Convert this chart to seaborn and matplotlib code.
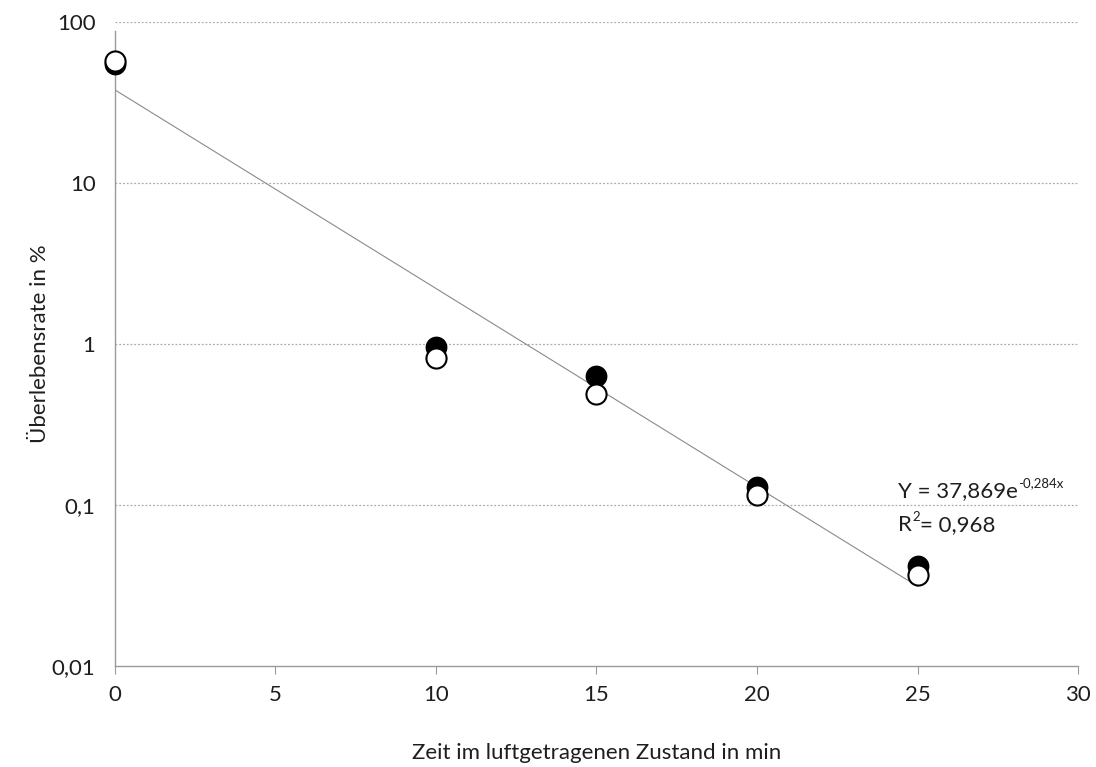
import numpy as np
import pandas as pd
import matplotlib
matplotlib.use("Agg")
import matplotlib.pyplot as plt
import seaborn as sns

# Survival rate (%) after time airborne (min), two replicate series
zeit = [0, 10, 15, 20, 25]
serie_gefuellt = [55.0, 0.96, 0.63, 0.13, 0.042]
serie_offen = [57.5, 0.82, 0.49, 0.116, 0.037]

# Exponential fit  Y = a * exp(b * x)
fit_a = 37.869
fit_b = -0.284
fit_r2 = 0.968
fit_x_range = [0, 25]

y_ticks = [0.01, 0.1, 1, 10, 100]
y_ticklabels = ["0,01", "0,1", "1", "10", "100"]
x_ticks = [0, 5, 10, 15, 20, 25, 30]

sns.set_theme(style="white")
plt.rcParams["font.family"] = ["Lato", "DejaVu Sans"]

FS = 16
TXT = "#1e1e1e"

fig = plt.figure(figsize=(10.96, 7.67), dpi=100)
ax = fig.add_axes([0.1049, 0.1317, 0.8787, 0.8396])
ax.set_yscale("log")

# fitted trend line
xf = np.linspace(fit_x_range[0], fit_x_range[1], 50)
df_fit = pd.DataFrame({"x": xf, "y": fit_a * np.exp(fit_b * xf)})
sns.lineplot(data=df_fit, x="x", y="y", ax=ax, color="#8a8a8a", linewidth=0.8, zorder=2)

df1 = pd.DataFrame({"x": zeit, "y": serie_gefuellt})
df2 = pd.DataFrame({"x": zeit, "y": serie_offen})
sns.scatterplot(data=df1, x="x", y="y", ax=ax, s=210, color="black",
                edgecolor="black", linewidth=1.2, zorder=3, clip_on=False)
sns.scatterplot(data=df2, x="x", y="y", ax=ax, s=210, color="white",
                edgecolor="black", linewidth=1.5, zorder=4, clip_on=False)

ax.set_xlim(0, 30)
ax.set_ylim(0.01, 100)
ax.set_xticks(x_ticks)
ax.set_xticklabels([str(t) for t in x_ticks], fontsize=FS, color=TXT)
ax.set_yticks(y_ticks)
ax.set_yticklabels(y_ticklabels, fontsize=FS, color=TXT)
ax.yaxis.set_minor_locator(matplotlib.ticker.NullLocator())

for yv in y_ticks[1:]:
    ax.axhline(yv, color="#ababab", linestyle=(0, (1.5, 1.5)), linewidth=0.9, zorder=1)

for side in ["top", "right"]:
    ax.spines[side].set_visible(False)
for side in ["left", "bottom"]:
    ax.spines[side].set_color("#9a9a9a")
    ax.spines[side].set_linewidth(1.0)
ax.spines["left"].set_bounds(0.01, 88)

ax.tick_params(axis="x", which="major", direction="out", length=6, width=0.8,
               color="#9a9a9a", pad=8, bottom=True)
ax.tick_params(axis="y", which="both", length=0, pad=14, left=False)

ax.set_xlabel("Zeit im luftgetragenen Zustand in min", fontsize=FS,
              color=TXT, labelpad=27)
ax.set_ylabel("Überlebensrate in %", fontsize=FS, color=TXT, labelpad=1)

# fit equation and coefficient of determination
t1 = ax.text(24.4, 0.122, "Y = 37,869e", fontsize=FS, color=TXT,
             ha="left", va="center")
ax.annotate("-0,284x", xy=(1.0, 0.62), xycoords=t1, fontsize=9.5, color=TXT,
            ha="left", va="bottom")
t2 = ax.text(24.4, 0.075, "R", fontsize=FS, color=TXT, ha="left", va="center")
t3 = ax.annotate("2", xy=(1.0, 0.62), xycoords=t2, fontsize=9.5, color=TXT,
                 ha="left", va="bottom")
ax.annotate("= " + f"{fit_r2:.3f}".replace(".", ","), xy=(1.0, 0.0),
            xycoords=(t3, t2), fontsize=FS, color=TXT, ha="left", va="bottom")

fig.savefig("out.png", dpi=100, facecolor="white")
